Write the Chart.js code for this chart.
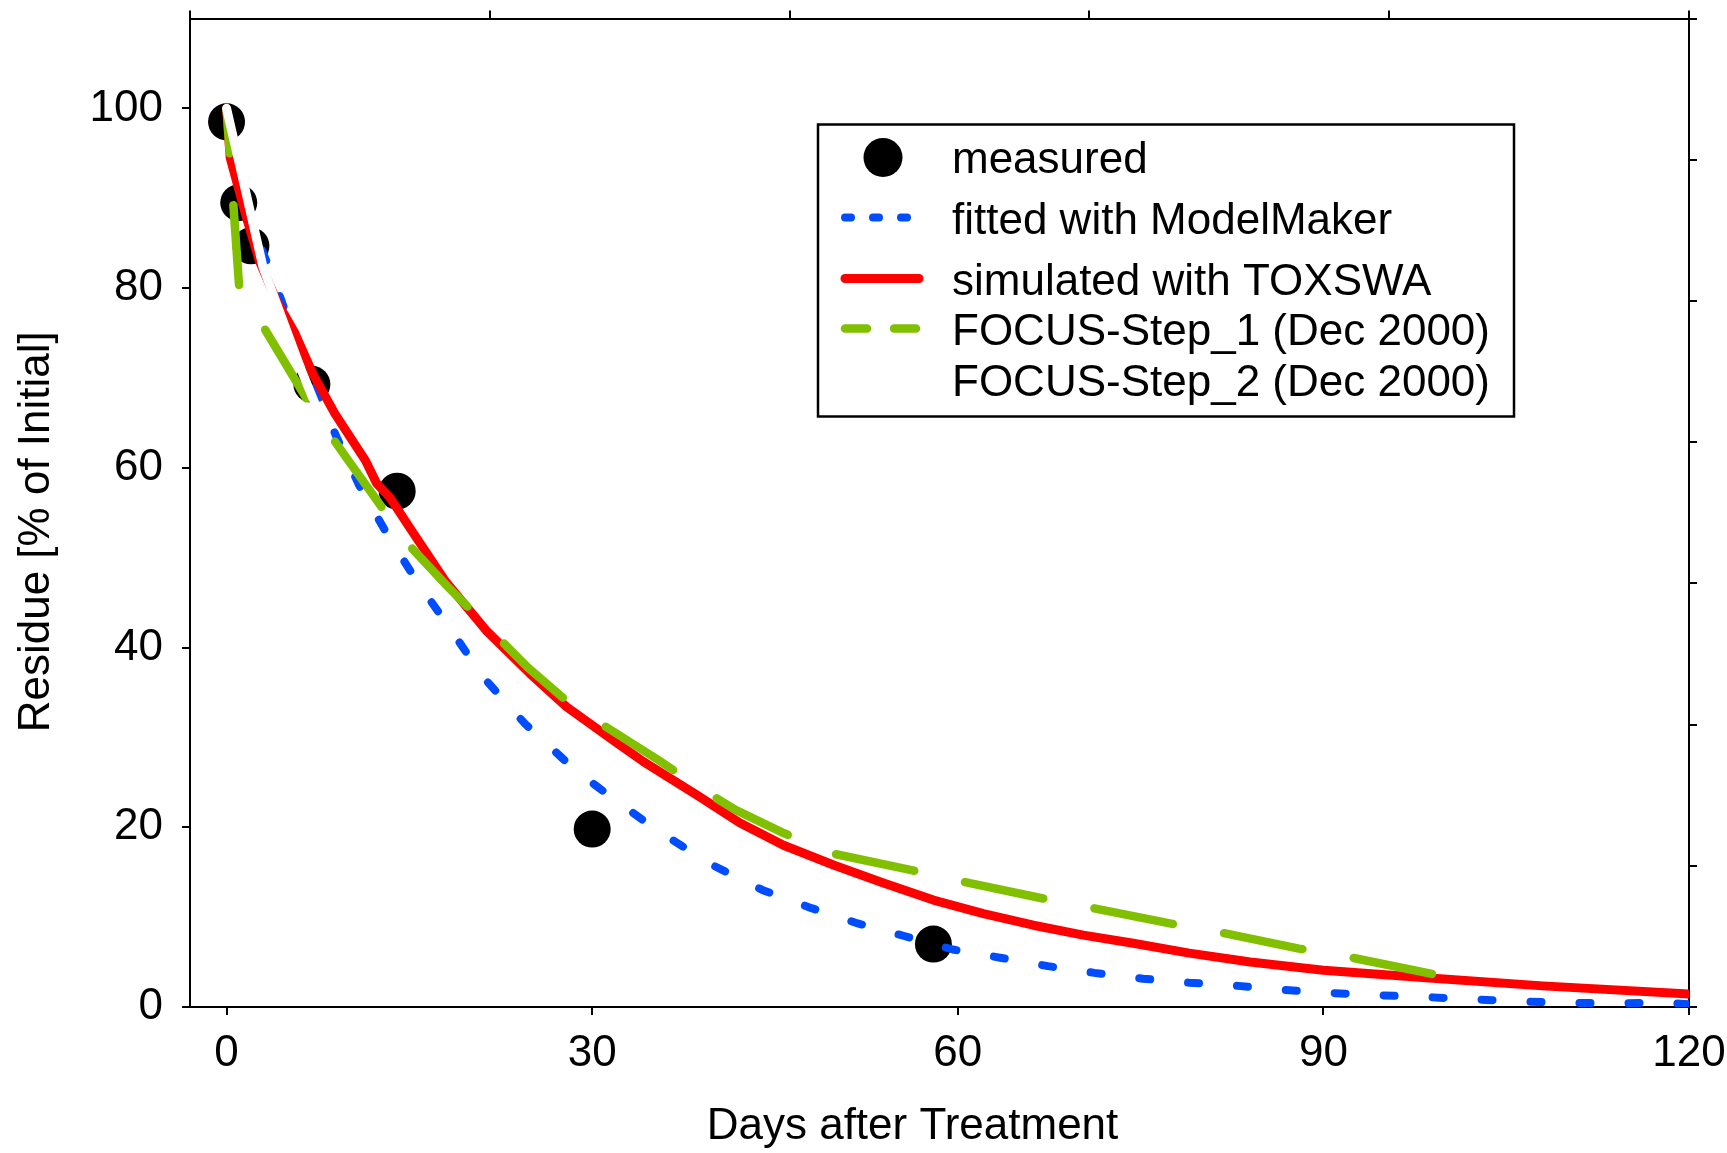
<!DOCTYPE html>
<html>
<head>
<meta charset="utf-8">
<script src="https://cdn.jsdelivr.net/npm/chart.js@4/dist/chart.umd.min.js"></script>
<style>
html,body{margin:0;padding:0;background:#fff;}
canvas{display:block;}
</style>
</head>
<body>
<canvas id="c" width="1727" height="1153"></canvas>
<script>
// ---- data ----
const seriesLabels = ['measured', 'fitted with ModelMaker', 'simulated with TOXSWA', 'FOCUS-Step_1 (Dec 2000)', 'FOCUS-Step_2 (Dec 2000)'];
const xTitle = 'Days after Treatment';
const yTitle = 'Residue [% of Initial]';
const xTickValues = [0, 30, 60, 90, 120];
const yTickValues = [0, 20, 40, 60, 80, 100];
const topTickValues = [0, 1, 2, 3, 4, 5];
const rightTickValues = [0, 1, 2, 3, 4, 5, 6, 7];

const measuredDays = [0, 1, 2, 7, 14, 30, 58];
const measuredResidue = [98.5, 89.5, 84.7, 69.3, 57.4, 19.8, 7.0];

const fittedDays = [0, 0.3, 2, 4.4, 5.7, 7.4, 9.1, 10.9, 13.1, 15.6, 18.3, 21, 24.5, 28.5, 31.7, 35.5, 40, 44, 48, 51.8, 55.6, 59.6, 63.6, 67.4, 71.2, 75.2, 79, 83, 86.8, 90.8, 94.7, 98.5, 102.5, 106.4, 110.5, 114.3, 118, 120];
const fittedResidue = [100, 96, 87.5, 79, 74, 68.5, 63.2, 58, 52.8, 47.4, 42.2, 36.8, 31.5, 26.5, 23.2, 19.5, 15.7, 13, 11, 9.3, 7.9, 6.4, 5.45, 4.55, 3.8, 3.15, 2.7, 2.35, 1.9, 1.55, 1.3, 1.1, 0.85, 0.6, 0.45, 0.4, 0.5, 0.3];

const simulatedDays = [0, 0.3, 1.6, 2.7, 4.1, 5.6, 7.1, 8.9, 11.4, 12.3, 13.4, 15, 18, 21.3, 24.9, 27.9, 31.7, 34.2, 38.7, 42.1, 45.7, 49.8, 53.9, 58, 62.1, 66.2, 70.3, 74.4, 79, 84, 90, 99, 108, 120];
const simulatedResidue = [100, 94.5, 88, 83, 78.6, 75, 70.4, 66, 60.8, 58.3, 56.7, 53.4, 47.3, 41.9, 37.1, 33.4, 29.7, 27.3, 23.5, 20.5, 18, 15.8, 13.8, 11.9, 10.4, 9.1, 8.0, 7.1, 6.0, 5.0, 4.1, 3.2, 2.35, 1.45];

const step1Days = [0, 1.03, 7.4, 9.9, 14.9, 18.2, 24.7, 28.3, 35.3, 38.8, 41.8, 45.8, 50, 56.3, 59.9, 66.9, 70.4, 77.4, 81, 88, 91.6, 99.2];
const step1Residue = [100, 80.2, 65.8, 61, 51.5, 46.7, 37.8, 33.6, 27.6, 24.4, 21.9, 19.3, 17.0, 15.2, 14.1, 12.1, 11.2, 9.3, 8.45, 6.5, 5.7, 3.6];

const step2Days = [0, 3.0, 6.1, 7.3];
const step2Residue = [100, 82.3, 71, 67];

// ---- helpers ----
const toPoints = (xs, ys) => xs.map((x, i) => ({ x: x, y: ys[i] }));
const fixedTicks = (vals) => (scale) => { scale.ticks = vals.map(v => ({ value: v })); };
const fixSize = (prop, val, dx, dy) => (s) => {
  s[prop] = val;
  s.paddingTop = 0; s.paddingBottom = 0; s.paddingLeft = 0; s.paddingRight = 0;
  if ((dx || dy) && !s._titleShifted) {
    const orig = s.drawTitle;
    s.drawTitle = function () {
      const c = this.ctx;
      c.save();
      c.translate(dx || 0, dy || 0);
      orig.call(this);
      c.restore();
    };
    s._titleShifted = true;
  }
};

Chart.defaults.font.family = "'Liberation Sans', Arial, Helvetica, sans-serif";
Chart.defaults.font.size = 44;
Chart.defaults.color = '#000';

const axisGrid = { display: true, drawOnChartArea: false, drawTicks: true, tickLength: 8, tickWidth: 2, tickColor: '#000', color: '#000', lineWidth: 2 };
const axisBorder = { display: true, color: '#000', width: 2 };

const boxLegend = {
  id: 'boxLegend',
  afterDraw(chart) {
    const ctx = chart.ctx;
    const a = chart.chartArea;
    const bx = a.left + 628, by = a.top + 106, bw = 696, bh = 292;
    ctx.save();
    ctx.fillStyle = '#fff';
    ctx.fillRect(bx, by, bw, bh);
    ctx.lineWidth = 2.5;
    ctx.strokeStyle = '#000';
    ctx.strokeRect(bx, by, bw, bh);
    const centers = [33, 93, 154, 204, 256];
    const baselines = [48, 109, 170, 220, 271];
    const sx0 = bx + 27, sx1 = bx + 101, cx = bx + 65, tx = bx + 134;
    const ds = chart.data.datasets;
    ds.forEach((d, i) => {
      const cy = by + centers[i];
      if (i === 0) {
        ctx.beginPath();
        ctx.fillStyle = d.pointBackgroundColor;
        ctx.arc(cx, cy, 19.5, 0, Math.PI * 2);
        ctx.fill();
      } else {
        ctx.beginPath();
        ctx.strokeStyle = d.borderColor;
        ctx.lineWidth = d.borderWidth;
        ctx.lineCap = 'round';
        ctx.setLineDash(d.legendDash || []);
        ctx.moveTo(sx0, cy);
        ctx.lineTo(i === 1 ? bx + 89 : sx1, cy);
        ctx.stroke();
        ctx.setLineDash([]);
      }
      ctx.fillStyle = '#000';
      ctx.font = "44px 'Liberation Sans', Arial, sans-serif";
      ctx.textBaseline = 'alphabetic';
      ctx.textAlign = 'left';
      ctx.fillText(d.label, tx, by + baselines[i]);
    });
    ctx.restore();
  }
};

new Chart(document.getElementById('c'), {
  type: 'scatter',
  data: {
    datasets: [
      {
        label: seriesLabels[0],
        data: toPoints(measuredDays, measuredResidue),
        showLine: false,
        pointRadius: 18.5,
        pointBackgroundColor: '#000',
        pointBorderWidth: 0,
        order: 5
      },
      {
        label: seriesLabels[1],
        data: toPoints(fittedDays, fittedResidue),
        showLine: true,
        borderColor: '#004cff',
        borderWidth: 8,
        borderDash: [11, 38],
        legendDash: [6, 22],
        borderCapStyle: 'round',
        borderJoinStyle: 'round',
        pointRadius: 0,
        tension: 0,
        order: 4
      },
      {
        label: seriesLabels[2],
        data: toPoints(simulatedDays, simulatedResidue),
        showLine: true,
        borderColor: '#ff0000',
        borderWidth: 9,
        borderCapStyle: 'round',
        borderJoinStyle: 'round',
        pointRadius: 0,
        tension: 0,
        order: 3
      },
      {
        label: seriesLabels[3],
        data: toPoints(step1Days, step1Residue),
        showLine: true,
        borderColor: '#80c000',
        borderWidth: 8.5,
        borderDash: [80, 52],
        borderDashOffset: 35,
        legendDash: [22, 27],
        borderCapStyle: 'round',
        borderJoinStyle: 'round',
        pointRadius: 0,
        tension: 0,
        order: 2
      },
      {
        label: seriesLabels[4],
        data: toPoints(step2Days, step2Residue),
        showLine: true,
        borderColor: '#ffffff',
        borderWidth: 9,
        borderCapStyle: 'round',
        borderJoinStyle: 'round',
        pointRadius: 0,
        tension: 0,
        order: 1
      }
    ]
  },
  options: {
    responsive: false,
    animation: false,
    devicePixelRatio: 1,
    layout: { padding: 0 },
    plugins: { legend: { display: false }, tooltip: { enabled: false } },
    scales: {
      x: {
        type: 'linear', position: 'bottom', min: -3, max: 120,
        afterBuildTicks: fixedTicks(xTickValues),
        afterFit: fixSize('height', 146, -27, 0),
        grid: axisGrid, border: axisBorder,
        ticks: { padding: 12, autoSkip: false, maxRotation: 0, font: { size: 44 } },
        title: { display: true, text: xTitle, font: { size: 44 }, padding: { top: 0, bottom: 0 } }
      },
      y: {
        type: 'linear', position: 'left', min: 0, max: 110,
        afterBuildTicks: fixedTicks(yTickValues),
        afterFit: fixSize('width', 190, 0, 19),
        grid: axisGrid, border: axisBorder,
        ticks: { padding: 19, font: { size: 44 } },
        title: { display: true, text: yTitle, font: { size: 44 }, padding: { top: 10, bottom: 0 } }
      },
      x2: {
        type: 'linear', position: 'top', min: 0, max: 5,
        afterBuildTicks: fixedTicks(topTickValues),
        afterFit: fixSize('height', 16),
        grid: axisGrid, border: axisBorder,
        ticks: { display: false }
      },
      y2: {
        type: 'linear', position: 'right', min: 0, max: 7,
        afterBuildTicks: fixedTicks(rightTickValues),
        afterFit: fixSize('width', 38),
        grid: axisGrid, border: axisBorder,
        ticks: { display: false }
      }
    }
  },
  plugins: [boxLegend]
});
</script>
</body>
</html>
